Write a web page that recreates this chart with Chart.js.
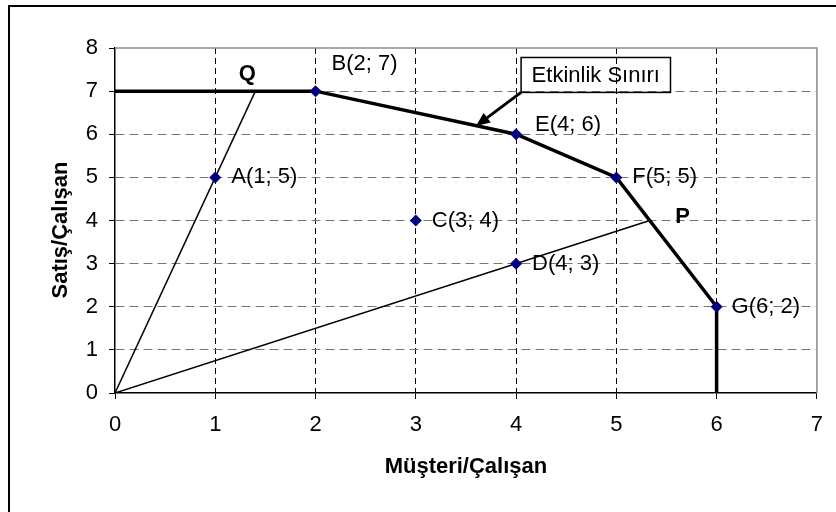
<!DOCTYPE html>
<html>
<head>
<meta charset="utf-8">
<script src="https://cdn.jsdelivr.net/npm/chart.js@4"></script>
<style>
    body { margin: 0; background: #ffffff; overflow: hidden; }
    #wrap { position: relative; width: 836px; height: 512px; }
    #frame { position: absolute; left: 8px; top: 5px; width: 840px; height: 520px; border: 2px solid #000; pointer-events: none; }
</style>
</head>
<body>
<div id="wrap">
    <canvas id="frontierChart" width="836" height="512"></canvas>
    <div id="frame"></div>
</div>
<script>
// firm points
var pointNames = ['A', 'B', 'C', 'D', 'E', 'F', 'G'];
var pointX = [1, 2, 3, 4, 4, 5, 6];
var pointY = [5, 7, 4, 3, 6, 5, 2];

// efficiency frontier
var frontierX = [0, 2, 4, 5, 6, 6];
var frontierY = [7, 7, 6, 5, 2, 0];

// rays from origin
var rayQX = [0, 1.4];
var rayQY = [0, 7];
var rayPX = [0, 5.333];
var rayPY = [0, 4];

var xTicks = [0, 1, 2, 3, 4, 5, 6, 7];
var yTicks = [0, 1, 2, 3, 4, 5, 6, 7, 8];

function toXY(xs, ys) {
    var out = [];
    for (var i = 0; i < xs.length; i++) out.push({ x: xs[i], y: ys[i] });
    return out;
}

// label offsets in pixels (style only)
var labelOffsets = {
    A: [16, 0], B: [16, -27], C: [16, 0], D: [16, 0],
    E: [19, -9], F: [16, 0], G: [15, 0]
};

var FONT = '"Liberation Sans", Arial, sans-serif';
var FS = 22;

var extrasPlugin = {
    id: 'extras',
    beforeDatasetsDraw: function (chart) {
        var ctx = chart.ctx, a = chart.chartArea;
        // grey top / right edge of plot area
        ctx.save();
        ctx.strokeStyle = '#8c8c8c';
        ctx.lineWidth = 1.5;
        ctx.beginPath();
        ctx.moveTo(a.left, a.top);
        ctx.lineTo(a.right, a.top);
        ctx.lineTo(a.right, a.bottom);
        ctx.stroke();
        ctx.restore();
    },
    afterDatasetsDraw: function (chart) {
        var ctx = chart.ctx, xs = chart.scales.x, ys = chart.scales.y, a = chart.chartArea;
        ctx.save();
        ctx.fillStyle = '#000';
        ctx.font = FS + 'px ' + FONT;
        ctx.textBaseline = 'middle';
        ctx.textAlign = 'left';
        for (var i = 0; i < pointNames.length; i++) {
            var off = labelOffsets[pointNames[i]];
            var px = xs.getPixelForValue(pointX[i]) + off[0];
            var py = ys.getPixelForValue(pointY[i]) + off[1];
            ctx.fillText(pointNames[i] + '(' + pointX[i] + '; ' + pointY[i] + ')', px, py);
        }

        // Q and P labels
        ctx.font = 'bold ' + FS + 'px ' + FONT;
        ctx.textAlign = 'center';
        ctx.fillText('Q', xs.getPixelForValue(1.32), ys.getPixelForValue(7.41));
        ctx.fillText('P', xs.getPixelForValue(5.66), ys.getPixelForValue(4.08));

        // Etkinlik Sınırı box + arrow
        var bx1 = xs.getPixelForValue(4.05), bx2 = xs.getPixelForValue(5.54);
        var by1 = ys.getPixelForValue(7.78), by2 = ys.getPixelForValue(6.97);
        ctx.strokeStyle = '#000';
        ctx.lineWidth = 1.5;
        ctx.strokeRect(bx1, by1, bx2 - bx1, by2 - by1);
        ctx.font = FS + 'px ' + FONT;
        ctx.textAlign = 'center';
        ctx.fillText('Etkinlik Sınırı', (bx1 + bx2) / 2, (by1 + by2) / 2 + 1);

        var tx = xs.getPixelForValue(3.6), ty = ys.getPixelForValue(6.19);
        var ang = Math.atan2(ty - by2, tx - bx1);
        ctx.lineWidth = 3;
        ctx.beginPath();
        ctx.moveTo(bx1, by2);
        ctx.lineTo(tx - 10 * Math.cos(ang), ty - 10 * Math.sin(ang));
        ctx.stroke();
        ctx.beginPath();
        ctx.moveTo(tx, ty);
        ctx.lineTo(tx - 14 * Math.cos(ang) + 6 * Math.sin(ang), ty - 14 * Math.sin(ang) - 6 * Math.cos(ang));
        ctx.lineTo(tx - 14 * Math.cos(ang) - 6 * Math.sin(ang), ty - 14 * Math.sin(ang) + 6 * Math.cos(ang));
        ctx.closePath();
        ctx.fill();

        // axis titles
        ctx.font = 'bold ' + FS + 'px ' + FONT;
        ctx.textAlign = 'center';
        ctx.fillText('Müşteri/Çalışan', (a.left + a.right) / 2, 467);
        ctx.translate(61, 230);
        ctx.rotate(-Math.PI / 2);
        ctx.fillText('Satış/Çalışan', 0, 0);
        ctx.restore();
    }
};

document.addEventListener('DOMContentLoaded', function () {
    var ctx = document.getElementById('frontierChart').getContext('2d');
    var frontierChart = new Chart(ctx, {
        type: 'scatter',
        data: {
            datasets: [{
                label: 'Firmalar',
                data: toXY(pointX, pointY),
                pointStyle: 'rectRot',
                pointRadius: 6,
                backgroundColor: '#000080',
                borderColor: '#000080',
                borderWidth: 0,
                order: 0
            }, {
                label: 'Etkinlik Sınırı',
                data: toXY(frontierX, frontierY),
                showLine: true,
                borderColor: '#000',
                borderWidth: 3.5,
                pointRadius: 0,
                order: 1
            }, {
                label: 'Q',
                data: toXY(rayQX, rayQY),
                showLine: true,
                borderColor: '#000',
                borderWidth: 1.5,
                pointRadius: 0,
                order: 2
            }, {
                label: 'P',
                data: toXY(rayPX, rayPY),
                showLine: true,
                borderColor: '#000',
                borderWidth: 1.5,
                pointRadius: 0,
                order: 2
            }]
        },
        options: {
            responsive: false,
            animation: false,
            layout: { padding: { left: 0, top: 48, right: 18, bottom: 0 } },
            scales: {
                x: {
                    type: 'linear',
                    min: 0,
                    max: 7,
                    afterBuildTicks: function (scale) {
                        scale.ticks = xTicks.map(function (v) { return { value: v }; });
                    },
                    afterFit: function (scale) { scale.height = 119; },
                    ticks: { color: '#000', font: { size: FS, family: FONT }, padding: 13 },
                    grid: {
                        color: function (c) { return (c.tick && (c.tick.value === 0 || c.tick.value === 7)) ? 'rgba(0,0,0,0)' : '#000'; },
                        tickColor: '#000',
                        tickLength: 6,
                        lineWidth: 1
                    },
                    border: { color: '#000', width: 1.5, dash: [6, 4] }
                },
                y: {
                    type: 'linear',
                    min: 0,
                    max: 8,
                    afterBuildTicks: function (scale) {
                        scale.ticks = yTicks.map(function (v) { return { value: v }; });
                    },
                    afterFit: function (scale) { scale.width = 115; },
                    ticks: { color: '#000', font: { size: FS, family: FONT }, padding: 11 },
                    grid: {
                        color: function (c) { return (c.tick && (c.tick.value === 0 || c.tick.value === 8)) ? 'rgba(0,0,0,0)' : '#777'; },
                        tickColor: '#000',
                        tickLength: 6,
                        lineWidth: 1
                    },
                    border: { color: '#000', width: 1.5, dash: [9, 5] }
                }
            },
            plugins: {
                legend: { display: false },
                tooltip: { enabled: false }
            }
        },
        plugins: [extrasPlugin]
    });
});
</script>
</body>
</html>
